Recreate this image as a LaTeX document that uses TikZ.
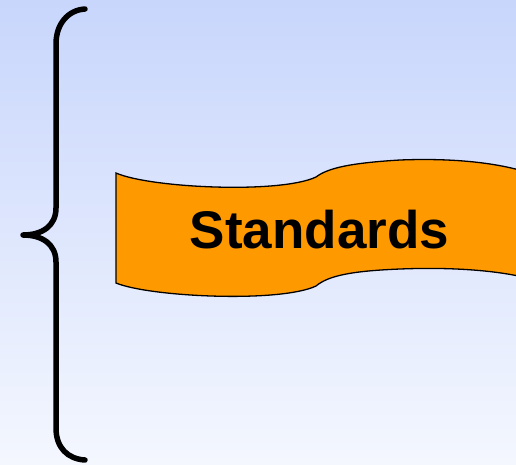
\documentclass[tikz,border=0pt]{standalone}
\usepackage{fontspec}
\setmainfont{Liberation Sans}
\usepackage{xcolor}
\usepackage{tikz}
\definecolor{skytop}{RGB}{200,214,252}
\definecolor{skybottom}{RGB}{244,247,254}
\definecolor{bannerorange}{RGB}{255,153,0}
\tikzset{
  bracepath/.style={draw=black, line width=5.5pt, line cap=round, line join=round},
  wavebox/.style={draw=black, line width=1.3pt, fill=bannerorange},
  bannertext/.style={font=\bfseries\fontsize{53}{60}\selectfont, inner sep=0pt}
}
\begin{document}
\begin{tikzpicture}[x=1pt,y=-1pt]
\useasboundingbox (0,0) rectangle (516,464);
\shade[top color=skytop, bottom color=skybottom] (0,0) rectangle (516,464);
% the brace
\draw[bracepath] (85,9) .. controls (68,10) and (56,24) .. (56,44) -- (56,208)
  .. controls (56,226) and (42,235) .. (23,235)
  .. controls (42,235) and (56,244) .. (56,262) -- (56,428)
  .. controls (56,448) and (68,459) .. (85,460);
% the banner
\begin{scope}
\clip (0,0) rectangle (516,464);
\draw[wavebox] (116,173) .. controls (150,188) and (280,194) .. (316,177)
  .. controls (328,168) and (350,163) .. (400,160)
  .. controls (450,158) and (500,162) .. (535,175)
  -- (535,280)
  .. controls (500,270) and (450,267) .. (400,269)
  .. controls (350,271) and (328,276) .. (316,286)
  .. controls (280,303) and (150,297) .. (116,283) -- cycle;
\end{scope}
\node[bannertext, anchor=base] (standards) at (319.5,248) {Standards};
\end{tikzpicture}
\end{document}
